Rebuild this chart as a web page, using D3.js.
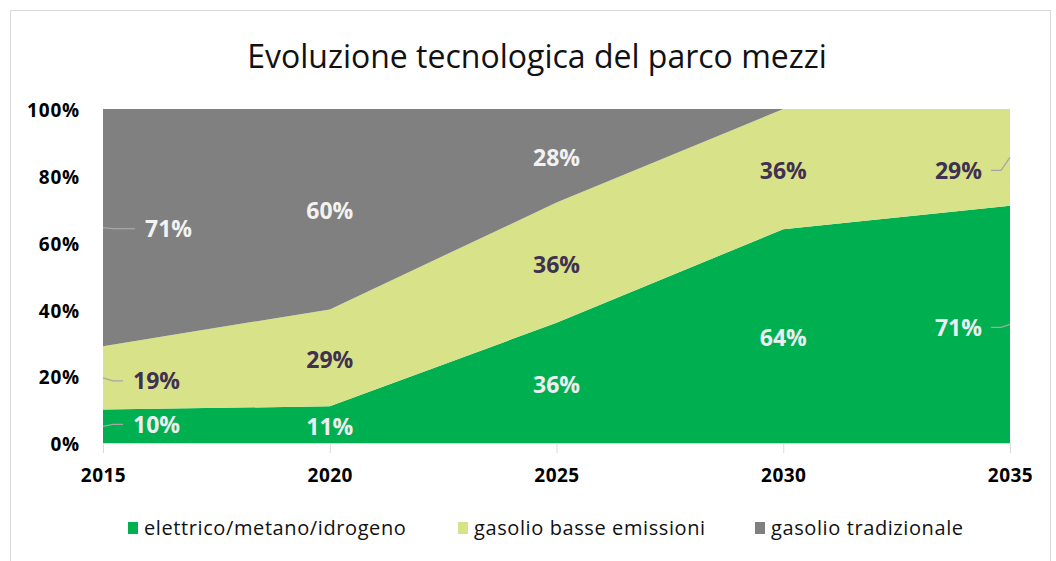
<!DOCTYPE html>
<html>
<head>
<meta charset="utf-8">
<script src="https://cdn.jsdelivr.net/npm/d3@7"></script>
<style>
  body { margin: 0; background: #fff; }
  svg { display: block; font-family: 'Open Sans', sans-serif; }
</style>
</head>
<body>
<div id="chart"></div>
<script>
// data
const years = [2015, 2020, 2025, 2030, 2035]
const elettrico = [10, 11, 36, 64, 71]
const basseEmissioni = [19, 29, 36, 36, 29]
const tradizionale = [71, 60, 28, 0, 0]
const seriesKeys = ['elettrico/metano/idrogeno', 'gasolio basse emissioni', 'gasolio tradizionale']
const yTicks = [0, 20, 40, 60, 80, 100]
const title = 'Evoluzione tecnologica del parco mezzi'

const colors = ['#00b050', '#d8e288', '#808080']
const labelColors = ['#ededf2', '#3f3151', '#f2f2f2']

let width = 1056
let height = 561
let margin = { top: 109, left: 103, right: 46, bottom: 118 }

let svg = d3
  .select('#chart')
  .append('svg')
  .attr('width', width)
  .attr('height', height)

// chart frame
svg
  .append('rect')
  .attr('x', 10.5)
  .attr('y', 10.5)
  .attr('width', 1040)
  .attr('height', 560)
  .attr('fill', 'none')
  .attr('stroke', '#d9d9d9')

svg
  .append('text')
  .attr('x', 537)
  .attr('y', 68)
  .attr('text-anchor', 'middle')
  .attr('font-size', '32px')
  .attr('fill', '#111')
  .text(title)

let xPositionScale = d3
  .scaleLinear()
  .domain(d3.extent(years))
  .range([margin.left, width - margin.right])

let yPositionScale = d3
  .scaleLinear()
  .domain([0, 100])
  .range([height - margin.bottom, margin.top])

let table = years.map((yr, i) => ({
  year: yr,
  [seriesKeys[0]]: elettrico[i],
  [seriesKeys[1]]: basseEmissioni[i],
  [seriesKeys[2]]: tradizionale[i]
}))

let stacked = d3.stack().keys(seriesKeys)(table)

let area = d3
  .area()
  .x(d => xPositionScale(d.data.year))
  .y0(d => yPositionScale(d[0]))
  .y1(d => yPositionScale(d[1]))

svg
  .append('g')
  .selectAll('.layer')
  .data(stacked)
  .enter()
  .append('path')
  .attr('class', 'layer')
  .attr('d', area)
  .attr('fill', (d, i) => colors[i])

// x axis
let xAxis = d3
  .axisBottom(xPositionScale)
  .tickValues(years)
  .tickFormat(d3.format('d'))
  .tickSize(10)
  .tickPadding(16)

let xg = svg
  .append('g')
  .attr('transform', `translate(0,${height - margin.bottom})`)
  .call(xAxis)
xg.select('.domain').attr('stroke', '#d9d9d9')
xg.selectAll('.tick line').attr('stroke', '#d9d9d9')
xg.selectAll('.tick text')
  .attr('font-size', '19px')
  .attr('font-weight', 'bold')
  .attr('letter-spacing', '0.5px')
  .attr('fill', '#000')
  .attr('font-family', "'Open Sans', sans-serif")

// y axis
let yAxis = d3
  .axisLeft(yPositionScale)
  .tickValues(yTicks)
  .tickFormat(d => d + '%')
  .tickSize(0)
  .tickPadding(23)

let yg = svg
  .append('g')
  .attr('transform', `translate(${margin.left},0)`)
  .call(yAxis)
yg.select('.domain').remove()
yg.selectAll('.tick text')
  .attr('font-size', '19px')
  .attr('font-weight', 'bold')
  .attr('letter-spacing', '0.8px')
  .attr('fill', '#000')
  .attr('dy', '0.4em')
  .attr('font-family', "'Open Sans', sans-serif")

// data labels
let labels = []
stacked.forEach((layer, s) => {
  layer.forEach((d, i) => {
    if (d[1] - d[0] <= 0) return
    labels.push({ s, i, value: d[1] - d[0], mid: (d[0] + d[1]) / 2, year: d.data.year })
  })
})

let last = years.length - 1
let firstDx = [30, 30, 42]
let lastDy = [3, 13, 0]
let firstDy = [-2, 3, 1]

let lg = svg.append('g')
labels.forEach(l => {
  let x = xPositionScale(l.year)
  let ym = yPositionScale(l.mid)
  let lx = x
  let ly = ym + 2
  let anchor = 'middle'
  if (l.i === 0) {
    lx = x + firstDx[l.s]
    ly = ym + firstDy[l.s]
    anchor = 'start'
    lg.append('path')
      .attr('d', `M${x},${ym}L${x + 10},${ly}L${lx - 10},${ly}`)
      .attr('fill', 'none')
      .attr('stroke', '#a6a6a6')
      .attr('stroke-width', 1.3)
  } else if (l.i === last) {
    lx = x - 28
    ly = ym + lastDy[l.s]
    anchor = 'end'
    lg.append('path')
      .attr('d', `M${x},${ym}L${x - 9},${ly}L${lx + 9},${ly}`)
      .attr('fill', 'none')
      .attr('stroke', '#a6a6a6')
      .attr('stroke-width', 1.3)
  }
  lg.append('text')
    .attr('x', lx)
    .attr('y', ly)
    .attr('text-anchor', anchor)
    .attr('dy', '0.36em')
    .attr('font-size', '23px')
    .attr('font-weight', 'bold')
    .attr('fill', labelColors[l.s])
    .text(l.value + '%')
})

// legend
let legendX = [128, 458, 755]
let legend = svg
  .append('g')
  .selectAll('.legend')
  .data(seriesKeys)
  .enter()
  .append('g')
  .attr('class', 'legend')
  .attr('transform', (d, i) => `translate(${legendX[i]},528)`)

legend
  .append('rect')
  .attr('x', 0)
  .attr('y', -6)
  .attr('width', 10)
  .attr('height', 12)
  .attr('fill', (d, i) => colors[i])

legend
  .append('text')
  .attr('x', 16)
  .attr('y', 0)
  .attr('dy', '0.35em')
  .attr('font-size', '20px')
  .attr('letter-spacing', '0.6px')
  .attr('fill', '#111')
  .text(d => d)
</script>
</body>
</html>
